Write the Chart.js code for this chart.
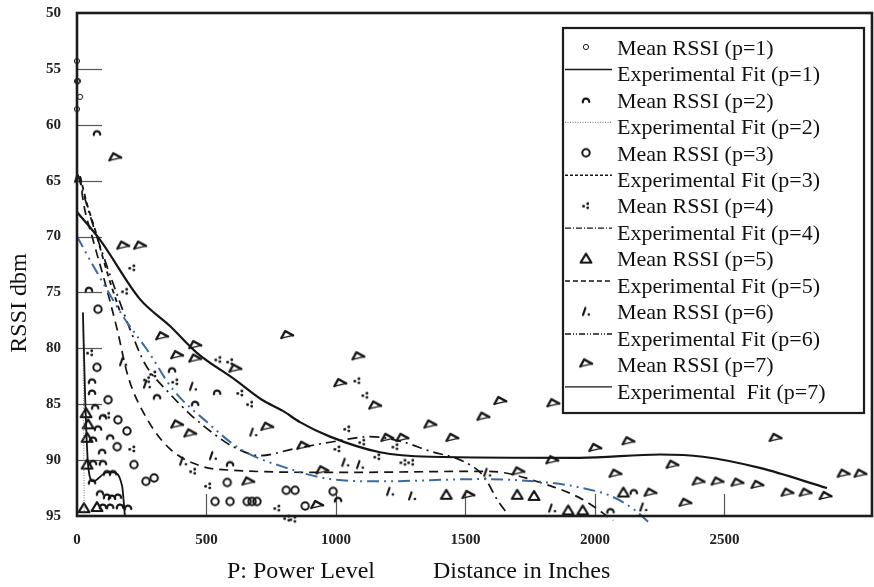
<!DOCTYPE html>
<html>
<head>
<meta charset="utf-8">
<script src="https://cdn.jsdelivr.net/npm/chart.js@4.4.1/dist/chart.umd.min.js"></script>
<style>
  html, body { margin: 0; padding: 0; background: #fff; }
  canvas { display: block; }
</style>
</head>
<body>
<canvas id="rssiChart" width="874" height="587"></canvas>
<script>
// axis ticks
const xTicks = [0, 500, 1000, 1500, 2000, 2500];
const yTicks = [50, 55, 60, 65, 70, 75, 80, 85, 90, 95];
const xInnerTicks = [500, 1000, 1500, 2000, 2500];
const yInnerTicks = [55, 60, 65, 70, 75, 80, 85, 90];

// mean RSSI per power level, [distance, rssi]
const meanP1 = [[0, 54.3], [0, 56.1], [4, 56.1], [12, 57.5], [0, 58.6]];
const meanP2 = [[77, 60.7], [46, 74.7], [58, 82.9], [58, 83.9], [70, 85.2], [100, 86.1], [81, 87.1], [128, 87.9],
  [62, 88.1], [97, 89.2], [62, 90.2], [100, 90.2], [58, 91.9], [116, 91.1], [139, 91.1], [89, 92.9], [116, 93.2],
  [135, 93.3], [158, 93.2], [100, 94.1], [128, 94.1], [166, 94.1], [197, 94.2], [367, 81.9], [309, 84.3],
  [456, 84.9], [541, 83.9], [591, 90.3], [1008, 93.5], [2150, 92.8], [2060, 94.5]];
const meanP3 = [[81, 76.5], [77, 81.7], [120, 84.6], [158, 86.4], [193, 87.4], [155, 88.8], [220, 90.4], [266, 91.9],
  [298, 91.6], [580, 92], [533, 93.7], [591, 93.7], [657, 93.7], [676, 93.7], [695, 93.7], [808, 92.7], [842, 92.7],
  [881, 94.1], [989, 92.8]];
const meanP4 = [[50, 80.4], [185, 74.9], [213, 72.8], [294, 82.3], [270, 82.8], [379, 83], [545, 81], [591, 81.2],
  [630, 84], [668, 85], [448, 91], [506, 92.3], [773, 94.3], [811, 95.2], [835, 95.3], [1082, 82.9], [1113, 84.2],
  [1043, 87.2], [1101, 88.4], [1005, 89], [1159, 89.7], [1229, 88.8], [1260, 90.2], [1290, 90.2], [213, 89], [116, 86]];
const meanP5 = [[35, 85.8], [43, 86.8], [39, 88], [39, 90.4], [27, 94.3], [77, 94.2], [1426, 93.1], [1700, 93.1],
  [1765, 93.2], [1897, 94.5], [1953, 94.5], [2110, 92.9]];
const meanP6 = [[4, 64.8], [178, 81.2], [270, 83.2], [448, 83.4], [681, 87.5], [525, 89.6], [410, 90.1], [1036, 90.2],
  [1093, 90.4], [1209, 92.8], [1294, 93.2], [1584, 91.1], [1835, 94.3], [2187, 94.2]];
const meanP7 = [[147, 63], [178, 70.9], [243, 70.9], [328, 79], [386, 80.7], [456, 79.8], [456, 81], [611, 81.9],
  [811, 78.9], [386, 86.9], [437, 87.7], [734, 87.1], [661, 92], [1086, 80.8], [1016, 83.2], [1151, 85.2],
  [1364, 86.9], [1569, 86.2], [1634, 84.8], [1839, 85], [873, 88.8], [947, 91], [1198, 88.1], [1256, 88.1],
  [1449, 88.1], [1511, 93.2], [1835, 90.1], [927, 94.1], [1704, 91.1], [2001, 89], [2129, 88.4], [2697, 88.1],
  [2299, 90.5], [2079, 91.3], [2214, 93], [2349, 93.9], [2400, 92], [2473, 92], [2550, 92.1], [2627, 92.3],
  [2743, 93], [2813, 93], [2890, 93.3], [2960, 91.3], [3025, 91.3]];

// experimental fits
const fitP1 = [[23, 76.8], [31, 84], [43, 90.5], [62, 91.9], [116, 91.1], [139, 91.1], [174, 92.3], [185, 95]];
const fitP2 = [[23, 76.8], [25, 85], [28, 94.8]];
const fitP3 = [[12, 64.6], [39, 67.1], [70, 69.4], [100, 71.9], [131, 74.3], [166, 76.7]];
const fitP4 = [[0, 70], [77, 73.2], [185, 77.4], [270, 80.1], [371, 83.7], [502, 86.6], [630, 89], [823, 90.8],
  [978, 91.7], [1171, 91.9], [1557, 91.7], [1816, 92], [1932, 92.4], [2060, 93.2], [2150, 94.4], [2214, 95.7]];
const fitP5 = [[12, 64.6], [23, 66.7], [62, 70.3], [108, 74.1], [155, 78.3], [197, 82.5], [270, 86.3], [359, 89],
  [475, 90.5], [591, 90.9], [1016, 91.1], [1584, 91], [1828, 92.3], [1951, 93.5], [2071, 95.4]];
const fitP6 = [[4, 64.5], [50, 68.1], [100, 71.6], [155, 75.2], [205, 78.3], [263, 81.4], [348, 83.8], [437, 85.9],
  [514, 87.4], [603, 88.8], [707, 89.6], [835, 89], [978, 88.4], [1132, 87.9], [1248, 88.3], [1364, 89.2],
  [1491, 90.1], [1569, 91.4], [1627, 93.7], [1662, 94.8]];
const fitP7 = [[0, 67.8], [89, 70.3], [243, 75.6], [359, 78], [463, 80.4], [610, 82.8], [714, 84.6], [795, 85.6],
  [861, 86.6], [977, 87.9], [1170, 89.3], [1363, 89.7], [1942, 89.8], [2251, 89.5], [2417, 89.7], [2637, 90.7],
  [2896, 92.5]];

const xTitleParts = ['P: Power Level', 'Distance in Inches'];
const yTitle = 'RSSI dbm';

const ink = '#151515';
const blue = '#3d6aa3';
const serif = '"Liberation Serif", "Times New Roman", serif';

function glyph(draw, size = 16) {
  const c = document.createElement('canvas');
  c.width = size; c.height = size;
  const g = c.getContext('2d');
  g.translate(size / 2, size / 2);
  g.strokeStyle = ink; g.fillStyle = ink;
  g.lineCap = 'round'; g.lineJoin = 'round';
  draw(g);
  return c;
}

const markers = {
  smallCircle: glyph(g => { g.lineWidth = 1; g.beginPath(); g.arc(0, 0, 2.6, 0, Math.PI * 2); g.stroke(); }),
  arch: glyph(g => { g.lineWidth = 2.2; g.beginPath(); g.arc(0, 1.8, 3.2, Math.PI * 0.95, Math.PI * 2.02); g.stroke(); }),
  bigCircle: glyph(g => { g.lineWidth = 2; g.beginPath(); g.arc(0, 0, 3.7, 0, Math.PI * 2); g.stroke(); }),
  dots: glyph(g => {
    [[-2.4, 0.4], [1.7, -2], [1.7, 2.1]].forEach(([x, y]) => { g.beginPath(); g.arc(x, y, 1.45, 0, Math.PI * 2); g.fill(); });
  }),
  triangle: glyph(g => {
    g.lineWidth = 2.2; g.beginPath(); g.moveTo(0, -4.8); g.lineTo(5.4, 4); g.lineTo(-5.4, 4); g.closePath(); g.stroke();
  }),
  slashDot: glyph(g => {
    g.lineWidth = 2.2; g.beginPath(); g.moveTo(-3, 3.5); g.lineTo(-0.6, -3.5); g.stroke();
    g.beginPath(); g.arc(2.8, 3, 1.3, 0, Math.PI * 2); g.fill();
  }),
  flag: glyph(g => {
    g.rotate(0.5);
    g.lineWidth = 2.4; g.beginPath(); g.moveTo(5, -3.5); g.lineTo(-4, -3.5); g.lineTo(-4, 4.5); g.stroke();
    g.lineWidth = 1.3; g.beginPath(); g.moveTo(5, -3.5); g.lineTo(-4, 4.5); g.stroke();
  })
};

const pts = arr => arr.map(([x, y]) => ({ x, y }));

function meanSet(label, data, style) {
  return { label, data: pts(data), pointStyle: markers[style], pointRadius: 6, showLine: false, kind: 'mark' };
}
function fitSet(label, data, color, width, dash, legendDash) {
  return {
    label, data: pts(data), showLine: true, pointRadius: 0, borderColor: color, borderWidth: width,
    borderDash: dash, cubicInterpolationMode: 'monotone', kind: 'line', legendDash: legendDash || dash,
    legendWidth: Math.min(width, 1.4)
  };
}

const datasets = [
  meanSet('Mean RSSI (p=1)', meanP1, 'smallCircle'),
  fitSet('Experimental Fit (p=1)', fitP1, ink, 1.8, []),
  meanSet('Mean RSSI (p=2)', meanP2, 'arch'),
  fitSet('Experimental Fit (p=2)', fitP2, '#777', 1, [1, 1.5]),
  meanSet('Mean RSSI (p=3)', meanP3, 'bigCircle'),
  fitSet('Experimental Fit (p=3)', fitP3, ink, 1.8, [5, 4], [3, 2]),
  meanSet('Mean RSSI (p=4)', meanP4, 'dots'),
  fitSet('Experimental Fit (p=4)', fitP4, blue, 2, [12, 5, 2, 5, 2, 5], [6, 2, 1, 2]),
  meanSet('Mean RSSI (p=5)', meanP5, 'triangle'),
  fitSet('Experimental Fit (p=5)', fitP5, ink, 1.7, [9, 6], [5, 3]),
  meanSet('Mean RSSI (p=6)', meanP6, 'slashDot'),
  fitSet('Experimental Fit (p=6)', fitP6, ink, 1.7, [10, 5, 2, 5], [6, 2, 1, 2, 1, 2]),
  meanSet('Mean RSSI (p=7)', meanP7, 'flag'),
  fitSet('Experimental  Fit (p=7)', fitP7, ink, 2.2, [])
];
datasets.forEach(d => { d.clip = 10; });

const decor = {
  id: 'decor',
  beforeDatasetsDraw(chart) {
    const { ctx, chartArea: a, scales: { x, y } } = chart;
    ctx.save();
    ctx.strokeStyle = '#555';
    ctx.lineWidth = 1.2;
    yInnerTicks.forEach(v => {
      const py = Math.round(y.getPixelForValue(v)) + 0.5;
      ctx.beginPath(); ctx.moveTo(a.left, py); ctx.lineTo(a.left + 25, py); ctx.stroke();
    });
    xInnerTicks.forEach(v => {
      const px = Math.round(x.getPixelForValue(v)) + 0.5;
      ctx.beginPath(); ctx.moveTo(px, a.bottom); ctx.lineTo(px, a.bottom - 22); ctx.stroke();
    });
    ctx.restore();
  },
  afterDraw(chart) {
    const { ctx, chartArea: a } = chart;
    ctx.save();
    // frame
    ctx.strokeStyle = '#1c1c1c';
    ctx.lineWidth = 2.6;
    ctx.strokeRect(a.left, a.top, a.right - a.left, a.bottom - a.top);

    // axis titles
    ctx.fillStyle = '#111';
    ctx.font = '24px ' + serif;
    ctx.textBaseline = 'alphabetic';
    ctx.textAlign = 'left';
    ctx.fillText(xTitleParts[0], 227, 578);
    ctx.fillText(xTitleParts[1], 433, 578);
    ctx.translate(26, 303);
    ctx.rotate(-Math.PI / 2);
    ctx.textAlign = 'center';
    ctx.fillText(yTitle, 0, 0);
    ctx.restore();

    // legend box
    ctx.save();
    const bx = a.right - 309, by = a.top + 15, bw = 301, bh = 385;
    ctx.fillStyle = '#fff';
    ctx.fillRect(bx, by, bw, bh);
    ctx.strokeStyle = '#1c1c1c';
    ctx.lineWidth = 2.2;
    ctx.strokeRect(bx, by, bw, bh);
    ctx.font = '22px ' + serif;
    ctx.textBaseline = 'middle';
    ctx.textAlign = 'left';
    chart.data.datasets.forEach((d, i) => {
      const ry = by + 21 + i * 26.45;
      if (d.kind === 'mark') {
        const m = d.pointStyle;
        ctx.drawImage(m, bx + 23 - m.width / 2, ry - 2 - m.height / 2);
      } else {
        ctx.strokeStyle = d.label.includes('p=2') ? '#777' : ink;
        ctx.lineWidth = d.legendWidth;
        ctx.setLineDash(d.legendDash);
        ctx.beginPath(); ctx.moveTo(bx + 2, ry - 6); ctx.lineTo(bx + 49, ry - 6); ctx.stroke();
        ctx.setLineDash([]);
      }
      ctx.fillStyle = '#111';
      ctx.fillText(d.label, bx + 54, ry);
    });
    ctx.restore();
  }
};

const tickFont = { family: serif, size: 15, weight: 'bold' };
// the frame is fixed, so the label overhang padding is dropped
const noPad = s => { s.paddingTop = 0; s.paddingBottom = 0; s.paddingLeft = 0; s.paddingRight = 0; };

new Chart(document.getElementById('rssiChart'), {
  type: 'scatter',
  data: { datasets },
  options: {
    responsive: false,
    animation: false,
    devicePixelRatio: 1,
    layout: { autoPadding: false, padding: { top: 13, right: 2, left: 0, bottom: 0 } },
    plugins: { legend: { display: false }, tooltip: { enabled: false } },
    scales: {
      x: {
        type: 'linear', min: 0, max: 3070,
        afterBuildTicks: s => { s.ticks = xTicks.map(v => ({ value: v })); },
        afterFit: s => { s.height = 71; noPad(s); },
        grid: { display: false, drawTicks: false },
        border: { display: false },
        ticks: { padding: 15, font: tickFont, color: '#222', maxRotation: 0, autoSkip: false, callback: v => String(v) }
      },
      y: {
        type: 'linear', min: 50, max: 95, reverse: true,
        afterBuildTicks: s => { s.ticks = yTicks.map(v => ({ value: v })); },
        afterFit: s => { s.width = 77; noPad(s); },
        grid: { display: false, drawTicks: false },
        border: { display: false },
        ticks: { padding: 16, font: tickFont, color: '#222', autoSkip: false }
      }
    }
  },
  plugins: [decor]
});
</script>
</body>
</html>
